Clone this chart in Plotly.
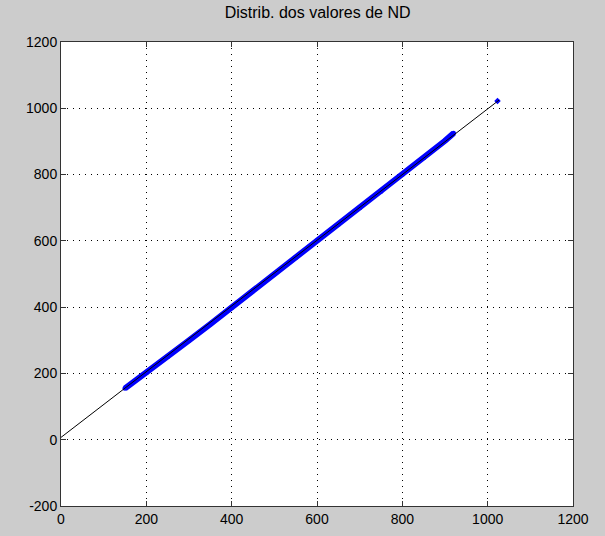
import plotly.graph_objects as go

# Blue ND samples (read along the band)
nd_x = [150, 200, 250, 300, 350, 400, 450, 500, 550, 600, 650, 700, 750, 800, 850, 900, 920]
nd_y = [155, 202, 251, 300, 349, 399, 450, 500, 550, 600, 650, 700, 750, 801, 851, 902, 925]
outlier_x = [1023]
outlier_y = [1022]
# Reference (fit) line
fit_x = [0, 1027]
fit_y = [7, 1025]

title = "Distrib. dos valores de ND"
tick_vals = [0, 200, 400, 600, 800, 1000, 1200]
ytick_vals = [-200, 0, 200, 400, 600, 800, 1000, 1200]
ytick_text = ["-200", "0", "200", "400", "600", "800", "1000", "1200"]

FONT = "Liberation Sans, Arial"

fig = go.Figure()
fig.add_trace(go.Scatter(x=nd_x, y=nd_y, mode="lines+markers",
                         line=dict(color="#0000ff", width=6),
                         marker=dict(color="#0000ff", size=5),
                         hoverinfo="skip", showlegend=False))
fig.add_trace(go.Scatter(x=outlier_x, y=outlier_y, mode="markers",
                         marker=dict(color="#0000ff", size=5, symbol="diamond"),
                         showlegend=False))
fig.add_trace(go.Scatter(x=fit_x, y=fit_y, mode="lines",
                         line=dict(color="black", width=1),
                         showlegend=False))

axis_common = dict(showgrid=True, gridcolor="black", griddash="1px,5px", gridwidth=1,
                   zeroline=False, showline=True, linecolor="#333333", linewidth=1,
                   mirror="ticks", ticks="inside", ticklen=5, tickcolor="#333333",
                   automargin=False,
                   tickfont=dict(family=FONT, size=14, color="black"))

fig.update_layout(
    width=605, height=536,
    paper_bgcolor="#cccccc", plot_bgcolor="white",
    margin=dict(l=61, r=32, t=42, b=30),
    title=dict(text=title, x=0.525, xanchor="center", y=0.977, yanchor="middle",
               font=dict(family=FONT, size=16, color="black")),
    xaxis=dict(range=[0, 1200], tickvals=tick_vals, **axis_common),
    yaxis=dict(range=[-200, 1200], tickvals=ytick_vals, ticktext=ytick_text, **axis_common),
)

fig.write_html("out.html")
